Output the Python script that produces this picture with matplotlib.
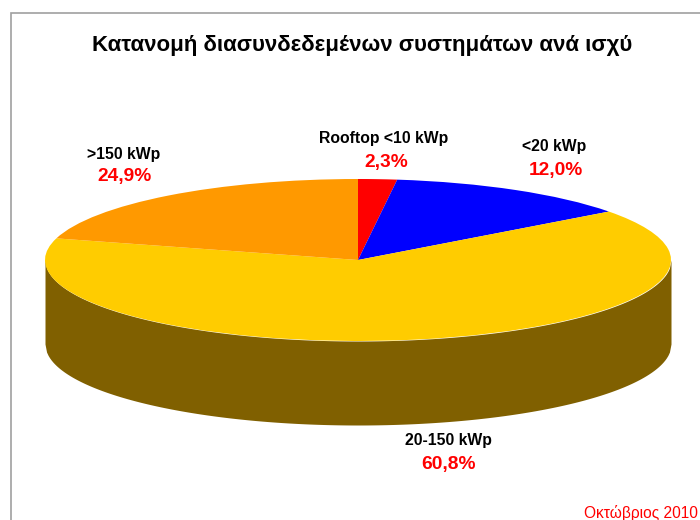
import numpy as np
from matplotlib import pyplot as plt
from matplotlib.patches import Rectangle

TITLE = "Κατανομή διασυνδεδεμένων συστημάτων ανά ισχύ"
DATE_NOTE = "Οκτώβριος 2010"

categories = ["Rooftop <10 kWp", "<20 kWp", "20-150 kWp", ">150 kWp"]
value_labels = ["2,3%", "12,0%", "60,8%", "24,9%"]
# slice sizes as they appear on the picture (3D view, they differ from the printed labels)
drawn_shares = [2.0, 12.8, 64.5, 20.7]
colors = ["#ff0000", "#0000ff", "#ffcc00", "#ff9900"]
WALL_COLOR = "#806000"

W, H = 700, 520
CX, CY, RX, RY = 358, 260, 313, 81
DEPTH = 84

label_pos = [(384, 138), (554, 147), (448, 441), (124, 154)]
value_pos = [(386, 162), (556, 171), (449, 465), (125, 177)]

plt.rcParams["font.family"] = ["Liberation Sans", "DejaVu Sans"]

fig = plt.figure(figsize=(W / 100, H / 100), dpi=100)
ax = fig.add_axes([0, 0, 1, 1])

# side wall of the cylinder, in unit circle coordinates
depth = DEPTH / RY
xs = np.linspace(-1, 1, 400)
front = -np.sqrt(1 - xs**2)
ax.fill_between(xs, front, front - depth, color=WALL_COLOR, lw=0)

ax.pie(
    drawn_shares,
    colors=colors,
    startangle=90,
    counterclock=False,
    radius=1,
    wedgeprops={"linewidth": 0},
)
ax.set_aspect("auto")
ax.set_xlim(-CX / RX, (W - CX) / RX)
ax.set_ylim((CY - H) / RY, CY / RY)
ax.axis("off")


def px(x, y):
    return x / W, 1 - y / H


# chart frame, runs off the right and bottom of the image
fig.add_artist(
    Rectangle(
        px(10.5, H + 5),
        (W + 5) / W,
        (H + 5 - 13) / H,
        transform=fig.transFigure,
        fill=False,
        edgecolor="#a0a0a0",
        linewidth=1.2,
    )
)

fig.text(*px(362, 45), TITLE, fontsize=16, fontweight="bold", ha="center", va="center")

for name, value, lp, vp in zip(categories, value_labels, label_pos, value_pos):
    fig.text(*px(*lp), name, fontsize=11.3, fontweight="bold", ha="center", va="center")
    fig.text(*px(*vp), value, fontsize=13.8, fontweight="bold", color="#ff0000", ha="center", va="center")

fig.text(*px(698, 513), DATE_NOTE, fontsize=11.2, color="#ff0000", ha="right", va="center")

fig.savefig("out.png", dpi=100)
